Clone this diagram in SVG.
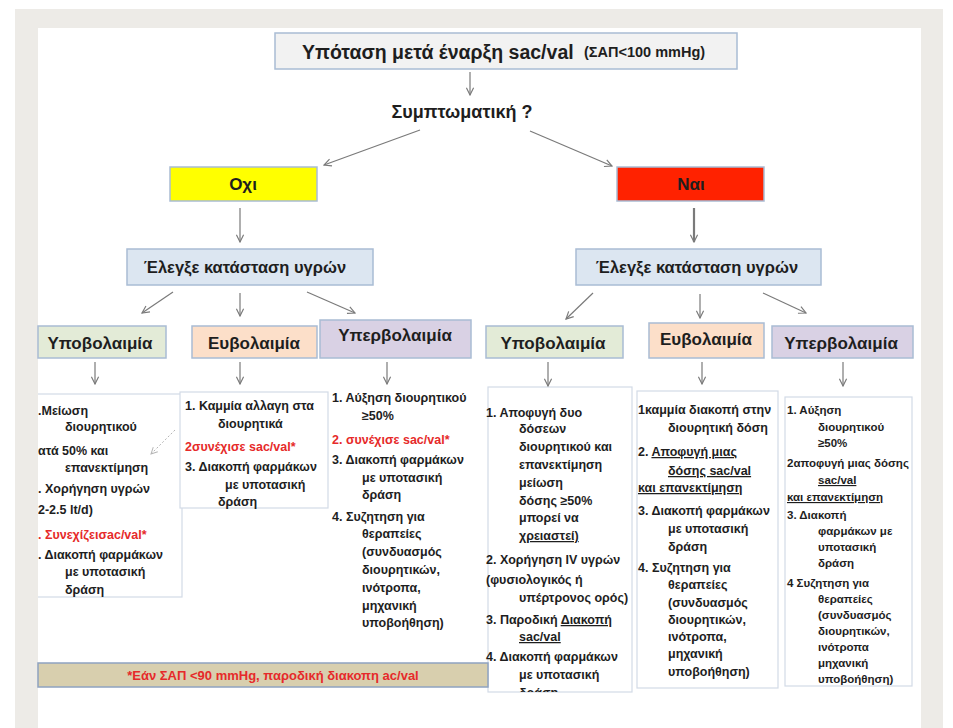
<svg xmlns="http://www.w3.org/2000/svg" width="953" height="728" viewBox="0 0 953 728">
<defs>
<marker id="ah" viewBox="0 0 10 10" refX="9" refY="5" markerWidth="9" markerHeight="9" markerUnits="userSpaceOnUse" orient="auto">
<path d="M1,1 L9,5 L1,9" fill="none" stroke="#7a7a7a" stroke-width="1.3"/>
</marker>
<marker id="ahd" viewBox="0 0 10 10" refX="9" refY="5" markerWidth="8" markerHeight="8" markerUnits="userSpaceOnUse" orient="auto">
<path d="M1,1 L9,5 L1,9" fill="none" stroke="#b5b5b5" stroke-width="1.2"/>
</marker>
<clipPath id="c4"><rect x="480" y="380" width="160" height="312"/></clipPath>
<style>
text{font-family:"Liberation Sans",Arial,sans-serif;font-weight:bold;fill:#1e1e1e}
.hd{font-size:17px}
.ls{font-size:12.5px}
.sm{font-size:11.5px}
.red{fill:#e62a2a}
.u{text-decoration:underline}
.box{stroke:#a9bcd4;stroke-width:1.5}
.tb{fill:#ffffff;stroke:#d3dbe6;stroke-width:1.2}
.cn line{stroke:#7a7a7a;stroke-width:1.2;marker-end:url(#ah)}
</style>
</defs>
<rect x="0" y="0" width="953" height="728" fill="#ffffff"/>
<rect x="15" y="9" width="928" height="719" fill="#edebe7"/>
<rect x="38" y="28" width="883" height="700" fill="#ffffff"/>

<g id="title">
<rect x="275" y="33" width="462" height="36" fill="#f2f2f2" class="box"/>
<text x="302" y="59" font-size="19.5">Υπόταση μετά έναρξη sac/val</text>
<text x="584" y="57" font-size="14.5">(ΣΑΠ&lt;100 mmHg)</text>
</g>

<g id="question">
<text x="462" y="118" font-size="18" text-anchor="middle">Συμπτωματική ?</text>
</g>

<g id="oxi">
<rect x="170" y="167" width="147" height="34" fill="#ffff00" class="box"/>
<text x="243" y="190" class="hd" text-anchor="middle">Οχι</text>
</g>
<g id="nai">
<rect x="617" y="167" width="147" height="34" fill="#ff2200" class="box"/>
<text x="691" y="190" class="hd" text-anchor="middle">Ναι</text>
</g>

<g id="check-left">
<rect x="127" y="249" width="246" height="36" fill="#dce6f1" class="box"/>
<text x="245" y="273" font-size="16.5" text-anchor="middle">Έλεγξε κατάσταση υγρών</text>
</g>
<g id="check-right">
<rect x="576" y="249" width="245" height="36" fill="#dce6f1" class="box"/>
<text x="697" y="273" font-size="16.5" text-anchor="middle">Έλεγξε κατάσταση υγρών</text>
</g>

<g id="hypo-left">
<rect x="38" y="326" width="128" height="32" fill="#e3ebd7" class="box"/>
<text x="100" y="349" class="hd" text-anchor="middle">Υποβολαιμία</text>
</g>
<g id="eu-left">
<rect x="192" y="326" width="125" height="32" fill="#fcdfc9" class="box"/>
<text x="254" y="349" class="hd" text-anchor="middle">Ευβολαιμία</text>
</g>
<g id="hyper-left">
<rect x="320" y="320" width="151" height="38" fill="#d9d1e4" class="box"/>
<text x="395" y="341" class="hd" text-anchor="middle">Υπερβολαιμία</text>
</g>
<g id="hypo-right">
<rect x="486" y="326" width="137" height="32" fill="#e3ebd7" class="box"/>
<text x="553" y="349" class="hd" text-anchor="middle">Υποβολαιμία</text>
</g>
<g id="eu-right">
<rect x="649" y="323" width="115" height="35" fill="#fcdfc9" class="box"/>
<text x="706" y="345" class="hd" text-anchor="middle">Ευβολαιμία</text>
</g>
<g id="hyper-right">
<rect x="772" y="326" width="141" height="32" fill="#d9d1e4" class="box"/>
<text x="841" y="349" class="hd" text-anchor="middle">Υπερβολαιμία</text>
</g>

<g id="list-hypo-left">
<rect x="32" y="394" width="150" height="203" class="tb"/>
<line x1="175" y1="430" x2="151" y2="454" stroke="#b5b5b5" stroke-width="1" stroke-dasharray="2,2" marker-end="url(#ahd)"/>
<text class="ls" x="38" y="415">.Μείωση</text>
<text class="ls" x="65" y="431">διουρητικού</text>
<text class="ls" x="38" y="455">ατά 50% και</text>
<text class="ls" x="65" y="472">επανεκτίμηση</text>
<text class="ls" x="38" y="493">. Χορήγηση υγρών</text>
<text class="ls" x="38" y="514">2-2.5 lt/d)</text>
<text class="ls red" x="38" y="539">. Συνεχίζεισac/val*</text>
<text class="ls" x="38" y="559">. Διακοπή φαρμάκων</text>
<text class="ls" x="65" y="576">με υποτασική</text>
<text class="ls" x="65" y="594">δράση</text>
</g>
<rect x="15" y="380" width="23" height="230" fill="#edebe7"/>

<g id="list-eu-left">
<rect x="180" y="392" width="148" height="116" class="tb"/>
<text class="ls" x="185" y="410">1. Καμμία αλλαγη στα</text>
<text class="ls" x="218" y="428">διουρητικά</text>
<text class="ls red" x="185" y="451">2συνέχισε sac/val*</text>
<text class="ls" x="185" y="471">3. Διακοπή φαρμάκων</text>
<text class="ls" x="225" y="489">με υποτασική</text>
<text class="ls" x="218" y="506">δράση</text>
</g>

<g id="list-hyper-left">
<text class="ls" x="332" y="402">1. Αύξηση διουρητικού</text>
<text class="ls" x="362" y="420">≥50%</text>
<text class="ls red" x="332" y="444">2. συνέχισε sac/val*</text>
<text class="ls" x="332" y="464">3. Διακοπή φαρμάκων</text>
<text class="ls" x="362" y="482">με υποτασική</text>
<text class="ls" x="362" y="499">δράση</text>
<text class="ls" x="332" y="521">4. Συζητηση για</text>
<text class="ls" x="362" y="538">θεραπείες</text>
<text class="ls" x="362" y="556">(συνδυασμός</text>
<text class="ls" x="362" y="574">διουρητικών,</text>
<text class="ls" x="362" y="592">ινότροπα,</text>
<text class="ls" x="362" y="610">μηχανική</text>
<text class="ls" x="362" y="627">υποβοήθηση)</text>
</g>

<g id="list-hypo-right">
<rect x="488" y="387" width="144" height="305" class="tb"/>
<g clip-path="url(#c4)">
<text class="ls" x="486" y="417">1. Αποφυγή δυο</text>
<text class="ls" x="519" y="433">δόσεων</text>
<text class="ls" x="519" y="451">διουρητικού και</text>
<text class="ls" x="519" y="469">επανεκτίμηση</text>
<text class="ls" x="519" y="487">μείωση</text>
<text class="ls" x="519" y="505">δόσης ≥50%</text>
<text class="ls" x="519" y="522">μπορεί να</text>
<text class="ls u" x="519" y="540">χρειαστεί)</text>
<text class="ls" x="486" y="564">2. Χορήγηση IV υγρών</text>
<text class="ls" x="486" y="584">(φυσιολογικός ή</text>
<text class="ls" x="519" y="602">υπέρτρονος ορός)</text>
<text class="ls" x="486" y="624">3. Παροδική <tspan class="u">Διακοπή</tspan></text>
<text class="ls u" x="519" y="641">sac/val</text>
<text class="ls" x="486" y="661">4. Διακοπή φαρμάκων</text>
<text class="ls" x="519" y="679">με υποτασική</text>
<text class="ls" x="519" y="697">δράση</text>
</g>
</g>

<g id="list-eu-right">
<rect x="637" y="391" width="141" height="297" class="tb"/>
<text class="ls" x="638" y="414">1καμμία διακοπή στην</text>
<text class="ls" x="668" y="432">διουρητική δόση</text>
<text class="ls" x="638" y="456">2. <tspan class="u">Αποφυγή μιας</tspan></text>
<text class="ls u" x="668" y="475">δόσης  sac/val</text>
<text class="ls u" x="638" y="492">και επανεκτίμηση</text>
<text class="ls" x="638" y="515">3. Διακοπή φαρμάκων</text>
<text class="ls" x="668" y="533">με υποτασική</text>
<text class="ls" x="668" y="551">δράση</text>
<text class="ls" x="638" y="572">4. Συζητηση για</text>
<text class="ls" x="668" y="589">θεραπείες</text>
<text class="ls" x="668" y="607">(συνδυασμός</text>
<text class="ls" x="668" y="624">διουρητικών,</text>
<text class="ls" x="668" y="641">ινότροπα,</text>
<text class="ls" x="668" y="658">μηχανική</text>
<text class="ls" x="668" y="676">υποβοήθηση)</text>
</g>

<g id="list-hyper-right">
<rect x="785" y="397" width="127" height="289" class="tb"/>
<text class="sm" x="787" y="414">1. Αύξηση</text>
<text class="sm" x="818" y="431">διουρητικού</text>
<text class="sm" x="818" y="447">≥50%</text>
<text class="sm" x="787" y="467">2αποφυγή μιας δόσης</text>
<text class="sm u" x="818" y="484">sac/val</text>
<text class="sm u" x="787" y="501">και επανεκτίμηση</text>
<text class="sm" x="787" y="519">3. Διακοπή</text>
<text class="sm" x="818" y="535">φαρμάκων με</text>
<text class="sm" x="818" y="551">υποτασική</text>
<text class="sm" x="818" y="567">δράση</text>
<text class="sm" x="787" y="587">4 Συζητηση για</text>
<text class="sm" x="818" y="603">θεραπείες</text>
<text class="sm" x="818" y="619">(συνδυασμός</text>
<text class="sm" x="818" y="635">διουρητικών,</text>
<text class="sm" x="818" y="651">ινότροπα</text>
<text class="sm" x="818" y="667">μηχανική</text>
<text class="sm" x="818" y="683">υποβοήθηση)</text>
</g>

<g id="note">
<rect x="38" y="663" width="450" height="24" fill="#d8cfae" stroke="#8fa3c0" stroke-width="1.5"/>
<text x="273" y="680" font-size="13" class="red" text-anchor="middle">*Εάν ΣΑΠ &lt;90 mmHg,  παροδική διακοπη ac/val</text>
</g>

<g id="connectors" class="cn">
<line x1="470" y1="72" x2="470" y2="95"/>
<line x1="420" y1="130" x2="324" y2="165"/>
<line x1="530" y1="131" x2="612" y2="166"/>
<line x1="240" y1="208" x2="240" y2="242"/>
<line x1="694" y1="208" x2="694" y2="242" style="stroke-width:2.2"/>
<line x1="173" y1="292" x2="142" y2="313"/>
<line x1="240" y1="293" x2="240" y2="316"/>
<line x1="307" y1="292" x2="355" y2="313"/>
<line x1="593" y1="293" x2="566" y2="319"/>
<line x1="700" y1="294" x2="700" y2="318"/>
<line x1="763" y1="293" x2="806" y2="313"/>
<line x1="95" y1="362" x2="95" y2="384"/>
<line x1="240" y1="362" x2="240" y2="384"/>
<line x1="387" y1="362" x2="387" y2="384"/>
<line x1="548" y1="362" x2="548" y2="386"/>
<line x1="702" y1="362" x2="702" y2="384"/>
<line x1="843" y1="362" x2="843" y2="386"/>
</g>
</svg>
